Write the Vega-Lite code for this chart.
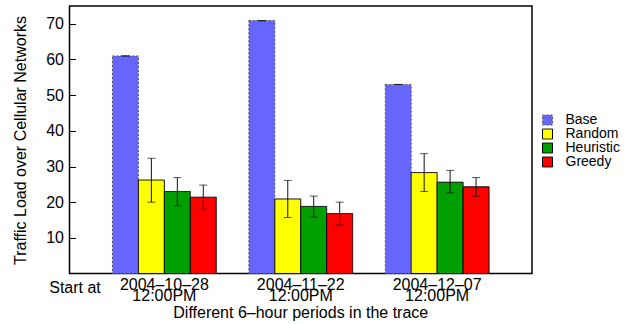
{
  "$schema": "https://vega.github.io/schema/vega-lite/v6.json",
  "autosize": {"type": "none"},
  "padding": {"left": 69.5, "top": 6, "right": 101, "bottom": 50.5},
  "width": 462.5,
  "height": 267.5,
  "config": {
    "font": "Liberation Sans",
    "view": {"stroke": "#000", "strokeWidth": 1.5},
    "axis": {"labelFont": "Liberation Sans", "titleFont": "Liberation Sans", "labelColor": "#000", "titleColor": "#000", "titleFontWeight": "normal", "labelFontSize": 16, "titleFontSize": 16, "grid": false, "domain": false},
    "legend": {"labelFont": "Liberation Sans", "labelFontSize": 14, "labelColor": "#000"},
    "title": {"font": "Liberation Sans", "fontSize": 16, "fontWeight": "normal", "color": "#000"}
  },
  "title": {"text": "Different 6\u2013hour periods in the trace", "orient": "bottom", "anchor": "middle", "offset": 2},
  "data": {
    "values": [
      {"period": "2004\u201310\u201328 12:00PM", "method": "Base", "value": 61.0, "lo": 61.0, "hi": 61.0},
      {"period": "2004\u201310\u201328 12:00PM", "method": "Random", "value": 26.2, "lo": 20.0, "hi": 32.3},
      {"period": "2004\u201310\u201328 12:00PM", "method": "Heuristic", "value": 23.0, "lo": 19.0, "hi": 26.9},
      {"period": "2004\u201310\u201328 12:00PM", "method": "Greedy", "value": 21.4, "lo": 18.0, "hi": 24.8},
      {"period": "2004\u201311\u201322 12:00PM", "method": "Base", "value": 70.9, "lo": 70.9, "hi": 70.9},
      {"period": "2004\u201311\u201322 12:00PM", "method": "Random", "value": 20.9, "lo": 15.7, "hi": 26.1},
      {"period": "2004\u201311\u201322 12:00PM", "method": "Heuristic", "value": 18.8, "lo": 15.8, "hi": 21.7},
      {"period": "2004\u201311\u201322 12:00PM", "method": "Greedy", "value": 16.8, "lo": 13.6, "hi": 20.0},
      {"period": "2004\u201312\u201307 12:00PM", "method": "Base", "value": 53.0, "lo": 53.0, "hi": 53.0},
      {"period": "2004\u201312\u201307 12:00PM", "method": "Random", "value": 28.3, "lo": 23.0, "hi": 33.6},
      {"period": "2004\u201312\u201307 12:00PM", "method": "Heuristic", "value": 25.6, "lo": 22.6, "hi": 28.9},
      {"period": "2004\u201312\u201307 12:00PM", "method": "Greedy", "value": 24.3, "lo": 21.7, "hi": 26.9}
    ]
  },
  "encoding": {
    "x": {
      "field": "period", "type": "nominal", "sort": null,
      "scale": {"paddingInner": 0.239, "paddingOuter": 0.315},
      "axis": {
        "labelExpr": "split(datum.label, ' ')", "labelAngle": 0, "ticks": false,
        "labelPadding": 3, "labelLineHeight": 10.7,
        "title": "Start at", "titleX": 5, "titleY": 18.5, "titleAlign": "center", "titleBaseline": "alphabetic", "titleAnchor": null
      }
    },
    "xOffset": {"field": "method", "type": "nominal", "sort": ["Base", "Random", "Heuristic", "Greedy"], "scale": {"domain": ["Base", "Random", "Heuristic", "Greedy"], "paddingInner": 0, "paddingOuter": 0}}
  },
  "layer": [
    {
      "mark": {"type": "bar", "strokeWidth": 1},
      "encoding": {
        "y": {"field": "value", "type": "quantitative", "scale": {"domain": [0, 75], "nice": false},
          "axis": {"values": [10, 20, 30, 40, 50, 60, 70], "tickSize": -6, "tickColor": "#000", "tickWidth": 1, "labelPadding": 12, "title": "Traffic Load over Cellular Networks", "titleX": -49.5, "titleY": 134, "titleAngle": -90, "titleAlign": "center", "titleBaseline": "middle", "titleAnchor": null}},
        "fill": {"field": "method", "type": "nominal", "scale": {"domain": ["Base", "Random", "Heuristic", "Greedy"], "range": ["#6666ff", "#ffff00", "#00a000", "#ff0000"]},
          "legend": {"title": null, "orient": "none", "legendX": 471, "legendY": 107, "symbolType": "square", "symbolSize": 100, "symbolStrokeColor": "#000", "symbolStrokeWidth": 1, "symbolDash": [], "symbolOpacity": 1, "labelOffset": 11, "rowPadding": 0}},
        "stroke": {"field": "method", "type": "nominal", "scale": {"domain": ["Base", "Random", "Heuristic", "Greedy"], "range": ["#555555", "#000000", "#000000", "#000000"]}, "legend": null},
        "strokeDash": {"field": "method", "type": "nominal", "scale": {"domain": ["Base", "Random", "Heuristic", "Greedy"], "range": [[2, 2], [1, 0], [1, 0], [1, 0]]}, "legend": null}
      }
    },
    {
      "mark": {"type": "rule", "color": "#111", "strokeWidth": 1},
      "encoding": {
        "y": {"field": "lo", "type": "quantitative"},
        "y2": {"field": "hi"}
      }
    },
    {
      "mark": {"type": "tick", "color": "#111", "size": 8, "thickness": 1, "orient": "horizontal"},
      "encoding": {"y": {"field": "hi", "type": "quantitative"}}
    },
    {
      "mark": {"type": "tick", "color": "#111", "size": 8, "thickness": 1, "orient": "horizontal"},
      "encoding": {"y": {"field": "lo", "type": "quantitative"}}
    }
  ]
}
